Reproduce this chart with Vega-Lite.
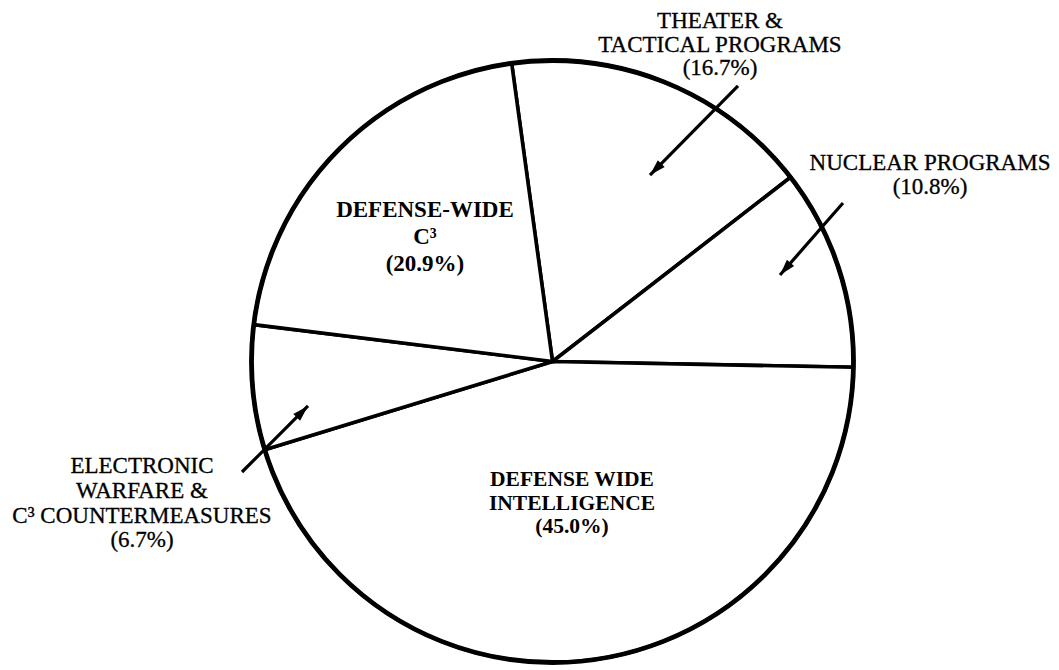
{
  "$schema": "https://vega.github.io/schema/vega-lite/v6.json",
  "width": 1059,
  "height": 670,
  "padding": 0,
  "autosize": "none",
  "background": "white",
  "config": {"view": {"stroke": null}},
  "datasets": {
    "slices": [
      {"category": "Theater & Tactical Programs", "share": 16.7, "rank": 1},
      {"category": "Nuclear Programs", "share": 10.8, "rank": 2},
      {"category": "Defense Wide Intelligence", "share": 45.0, "rank": 3},
      {"category": "Electronic Warfare & C3 Countermeasures", "share": 6.7, "rank": 4},
      {"category": "Defense-Wide C3", "share": 20.9, "rank": 5}
    ],
    "labels": [
      {"text": "THEATER &", "kind": "outer", "x": 0.5565, "y": 1.1080},
      {"text": "TACTICAL PROGRAMS", "kind": "outer", "x": 0.5565, "y": 1.0299},
      {"text": "(16.7%)", "kind": "outer", "x": 0.5565, "y": 0.9518},
      {"text": "NUCLEAR PROGRAMS", "kind": "outer", "x": 1.2542, "y": 0.6362},
      {"text": "(10.8%)", "kind": "outer", "x": 1.2542, "y": 0.5581},
      {"text": "ELECTRONIC", "kind": "outer", "x": -1.3638, "y": -0.3704},
      {"text": "WARFARE &", "kind": "outer", "x": -1.3638, "y": -0.4535},
      {"text": "C³ COUNTERMEASURES", "kind": "outer", "x": -1.3638, "y": -0.5365},
      {"text": "(6.7%)", "kind": "outer", "x": -1.3638, "y": -0.6163},
      {"text": "DEFENSE-WIDE", "kind": "inner", "x": -0.4236, "y": 0.4801},
      {"text": "C³", "kind": "inner", "x": -0.4236, "y": 0.3904},
      {"text": "(20.9%)", "kind": "inner", "x": -0.4236, "y": 0.3007},
      {"text": "DEFENSE WIDE", "kind": "tight", "x": 0.0648, "y": -0.4136},
      {"text": "INTELLIGENCE", "kind": "tight", "x": 0.0648, "y": -0.4917},
      {"text": "(45.0%)", "kind": "tight", "x": 0.0648, "y": -0.5698}
    ],
    "arrows": [
      {"target": "Theater & Tactical Programs", "x": 0.6163, "y": 0.9153, "x2": 0.3239, "y2": 0.6196},
      {"target": "Nuclear Programs", "x": 0.9651, "y": 0.5266, "x2": 0.7558, "y2": 0.2874},
      {"target": "Electronic Warfare & C3 Countermeasures", "x": -1.0316, "y": -0.3671, "x2": -0.8123, "y2": -0.1478}
    ]
  },
  "layer": [
    {
      "data": {"name": "slices"},
      "mark": {"type": "arc", "outerRadius": 301, "fill": "white", "stroke": "black", "strokeWidth": 3.6, "strokeJoin": "miter"},
      "encoding": {
        "x": {"datum": 0, "type": "quantitative", "scale": {"domain": [-1.8355, 1.6827], "nice": false, "zero": false}, "axis": null},
        "y": {"datum": 0, "type": "quantitative", "scale": {"domain": [-1.0249, 1.2010], "nice": false, "zero": false}, "axis": null},
        "theta": {"field": "share", "type": "quantitative", "stack": true, "scale": {"range": [-0.1361, 6.1471]}},
        "order": {"field": "rank", "type": "quantitative"}
      }
    },
    {
      "data": {"values": [{"ring": "outline"}]},
      "mark": {"type": "arc", "outerRadius": 301, "theta": 0, "theta2": 6.2832, "fill": null, "stroke": "black", "strokeWidth": 4.8},
      "encoding": {
        "x": {"datum": 0, "type": "quantitative", "axis": null},
        "y": {"datum": 0, "type": "quantitative", "axis": null}
      }
    },
    {
      "data": {"name": "arrows"},
      "mark": {"type": "rule", "stroke": "black", "strokeWidth": 3.2},
      "encoding": {
        "x": {"field": "x", "type": "quantitative", "axis": null},
        "y": {"field": "y", "type": "quantitative", "axis": null},
        "x2": {"field": "x2"},
        "y2": {"field": "y2"}
      }
    },
    {
      "data": {"name": "arrows"},
      "transform": [{"filter": "datum.target === 'Theater & Tactical Programs'"}],
      "mark": {"type": "point", "shape": "M0,0L0.6,2L-0.6,2Z", "filled": true, "fill": "black", "stroke": null, "size": 256, "opacity": 1, "angle": 224.7},
      "encoding": {
        "x": {"field": "x2", "type": "quantitative", "axis": null},
        "y": {"field": "y2", "type": "quantitative", "axis": null}
      }
    },
    {
      "data": {"name": "arrows"},
      "transform": [{"filter": "datum.target === 'Nuclear Programs'"}],
      "mark": {"type": "point", "shape": "M0,0L0.6,2L-0.6,2Z", "filled": true, "fill": "black", "stroke": null, "size": 256, "opacity": 1, "angle": 221.2},
      "encoding": {
        "x": {"field": "x2", "type": "quantitative", "axis": null},
        "y": {"field": "y2", "type": "quantitative", "axis": null}
      }
    },
    {
      "data": {"name": "arrows"},
      "transform": [{"filter": "datum.target === 'Electronic Warfare & C3 Countermeasures'"}],
      "mark": {"type": "point", "shape": "M0,0L0.6,2L-0.6,2Z", "filled": true, "fill": "black", "stroke": null, "size": 256, "opacity": 1, "angle": 45},
      "encoding": {
        "x": {"field": "x2", "type": "quantitative", "axis": null},
        "y": {"field": "y2", "type": "quantitative", "axis": null}
      }
    },
    {
      "data": {"name": "labels"},
      "transform": [{"filter": "datum.kind === 'outer'"}],
      "mark": {"type": "text", "font": "Liberation Serif", "fontSize": 23, "fontWeight": "normal", "align": "center", "baseline": "alphabetic", "fill": "black", "stroke": "black", "strokeWidth": 0.3},
      "encoding": {
        "x": {"field": "x", "type": "quantitative", "axis": null},
        "y": {"field": "y", "type": "quantitative", "axis": null},
        "text": {"field": "text", "type": "nominal"}
      }
    },
    {
      "data": {"name": "labels"},
      "transform": [{"filter": "datum.kind === 'inner'"}],
      "mark": {"type": "text", "font": "Liberation Serif", "fontSize": 23, "fontWeight": "bold", "align": "center", "baseline": "alphabetic", "fill": "black"},
      "encoding": {
        "x": {"field": "x", "type": "quantitative", "axis": null},
        "y": {"field": "y", "type": "quantitative", "axis": null},
        "text": {"field": "text", "type": "nominal"}
      }
    },
    {
      "data": {"name": "labels"},
      "transform": [{"filter": "datum.kind === 'tight'"}],
      "mark": {"type": "text", "font": "Liberation Serif", "fontSize": 21.5, "fontWeight": "bold", "align": "center", "baseline": "alphabetic", "fill": "black"},
      "encoding": {
        "x": {"field": "x", "type": "quantitative", "axis": null},
        "y": {"field": "y", "type": "quantitative", "axis": null},
        "text": {"field": "text", "type": "nominal"}
      }
    }
  ]
}
